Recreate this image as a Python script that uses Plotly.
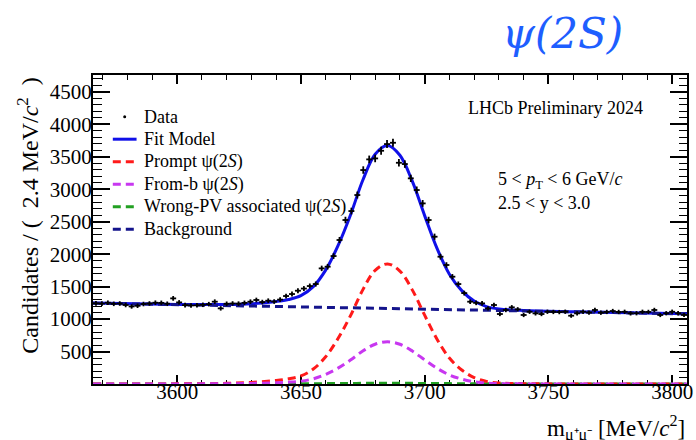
import numpy as np
import plotly.graph_objects as go

# ---- data: dimuon mass histogram, 2.4 MeV/c^2 bins from 3566 to 3806 ----
bin_lo = 3566.0
bin_width = 2.4
counts = [
    1242, 1238, 1252, 1235, 1240, 1217, 1195, 1205, 1232, 1240,
    1252, 1250, 1236, 1319, 1257, 1215, 1210, 1212, 1220, 1230,
    1268, 1165, 1236, 1240, 1238, 1250, 1268, 1294, 1262, 1283,
    1270, 1300, 1355, 1386, 1437, 1470, 1509, 1540, 1781, 1807,
    1971, 2218, 2526, 2664, 2911, 3296, 3460, 3475, 3593, 3696,
    3716, 3408, 3388, 3168, 2988, 2782, 2526, 2269, 1961, 1833,
    1653, 1540, 1400, 1268, 1250, 1242, 1165, 1217, 1078, 1140,
    1181, 1150, 1063, 1113, 1088, 1078, 1113, 1110, 1108, 1113,
    1052, 1088, 1113, 1100, 1140, 1098, 1110, 1124, 1110, 1112,
    1088, 1090, 1112, 1110, 1140, 1063, 1090, 1113, 1090, 1063,
]

# ---- fit components sampled along the mass axis ----
curve_mass = [3566, 3600, 3620, 3630, 3640, 3645, 3650, 3655, 3660, 3665,
              3670, 3675, 3680, 3685, 3690, 3695, 3700, 3705, 3710, 3715,
              3720, 3725, 3730, 3740, 3760, 3806]
background = [1245, 1222, 1208, 1201, 1194, 1191, 1187, 1184, 1180, 1177,
              1173, 1170, 1167, 1163, 1160, 1156, 1153, 1150, 1146, 1143,
              1139, 1136, 1132, 1125, 1112, 1080]
prompt = [0, 2, 10, 25, 55, 80, 125, 230, 420, 700,
          1050, 1450, 1750, 1850, 1740, 1450, 1060, 690, 400, 215,
          100, 40, 16, 5, 1, 0]
from_b = [0, 1, 4, 9, 20, 28, 44, 80, 148, 245,
          368, 508, 612, 650, 612, 508, 372, 242, 140, 75,
          35, 14, 6, 2, 0, 0]
wrong_pv = [1, 1, 2, 2, 3, 3, 4, 5, 6, 8,
            9, 10, 11, 11, 11, 10, 9, 8, 6, 5,
            3, 2, 2, 1, 1, 1]

x_range = [3566, 3806]
y_range = [0, 4760]
y_ticks = [500, 1000, 1500, 2000, 2500, 3000, 3500, 4000, 4500]

centers = bin_lo + bin_width * (np.arange(len(counts)) + 0.5)
counts_arr = np.array(counts, dtype=float)
fit_total = (np.array(background) + np.array(prompt)
             + np.array(from_b) + np.array(wrong_pv))

SERIF = "Liberation Serif"
C_FIT = "#1010e8"
C_PROMPT = "#ff1a1a"
C_FROMB = "#c837f0"
C_WPV = "#22a022"
C_BKG = "#14148c"
DASH = "8px,5px"

fig = go.Figure()

fig.add_trace(go.Scatter(x=curve_mass, y=fit_total, mode="lines",
                         line=dict(color=C_FIT, width=3, shape="spline"),
                         hoverinfo="skip"))
fig.add_trace(go.Scatter(x=curve_mass, y=background, mode="lines",
                         line=dict(color=C_BKG, width=3, dash=DASH),
                         hoverinfo="skip"))
fig.add_trace(go.Scatter(x=curve_mass, y=wrong_pv, mode="lines",
                         line=dict(color=C_WPV, width=3, dash=DASH, shape="spline"),
                         hoverinfo="skip"))
fig.add_trace(go.Scatter(x=curve_mass, y=prompt, mode="lines",
                         line=dict(color=C_PROMPT, width=3, dash=DASH, shape="spline"),
                         hoverinfo="skip"))
fig.add_trace(go.Scatter(x=curve_mass, y=from_b, mode="lines",
                         line=dict(color=C_FROMB, width=3, dash=DASH, shape="spline"),
                         hoverinfo="skip"))
fig.add_trace(go.Scatter(
    x=centers, y=counts_arr, mode="markers",
    marker=dict(color="black", size=2),
    error_x=dict(type="constant", value=bin_width / 2, width=0,
                 thickness=1.8, color="black"),
    error_y=dict(type="data", array=np.sqrt(counts_arr), width=0,
                 thickness=1.8, color="black"),
))

# plot-area geometry in pixels, used to place the in-frame legend and labels
L, T, W, H = 93, 75, 600, 309


def px(xp):
    return (xp - L) / W


def py(yp):
    return (T + H - yp) / H


shapes = []
annotations = []

legend_rows = [
    ("Data", None),
    ("Fit Model", C_FIT),
    ("Prompt ψ(2<i>S</i>)", C_PROMPT),
    ("From-b ψ(2<i>S</i>)", C_FROMB),
    ("Wrong-PV associated ψ(2<i>S</i>)", C_WPV),
    ("Background", C_BKG),
]
row_y0, row_step = 116.7, 22.5
for k, (label, color) in enumerate(legend_rows):
    yy = row_y0 + k * row_step
    if color is None:
        shapes.append(dict(type="circle", xref="paper", yref="paper",
                           x0=px(123.5), x1=px(126.5), y0=py(118.2), y1=py(115.2),
                           fillcolor="black", line=dict(width=0)))
    else:
        shapes.append(dict(type="line", xref="paper", yref="paper",
                           x0=px(113), x1=px(137), y0=py(yy), y1=py(yy),
                           line=dict(color=color, width=3,
                                     dash="solid" if k == 1 else DASH)))
    annotations.append(dict(text=label, xref="paper", yref="paper",
                            x=px(142), y=py(yy), xanchor="left", yanchor="middle",
                            showarrow=False,
                            font=dict(family=SERIF, size=18, color="black")))

annotations += [
    dict(text="LHCb Preliminary 2024", xref="paper", yref="paper",
         x=px(470), y=py(108), xanchor="left", yanchor="middle", showarrow=False,
         font=dict(family=SERIF, size=18, color="black")),
    dict(text="5 &lt; <i>p</i><sub>T</sub> &lt; 6 GeV/<i>c</i>", xref="paper", yref="paper",
         x=px(500), y=py(180), xanchor="left", yanchor="middle", showarrow=False,
         font=dict(family=SERIF, size=18, color="black")),
    dict(text="2.5 &lt; y &lt; 3.0", xref="paper", yref="paper",
         x=px(500), y=py(203), xanchor="left", yanchor="middle", showarrow=False,
         font=dict(family=SERIF, size=18, color="black")),
    dict(text="<i>ψ(2S)</i>", xref="paper", yref="paper",
         x=px(567), y=py(33), xanchor="center", yanchor="middle", showarrow=False,
         font=dict(family="DejaVu Serif", size=42, color="#1e5eff")),
    dict(text="Candidates / (  2.4 MeV/<i>c</i><sup>2</sup>  )", xref="paper", yref="paper",
         x=px(27), y=py(216), xanchor="center", yanchor="middle", textangle=-90,
         showarrow=False, font=dict(family=SERIF, size=24, color="black")),
    dict(text="m<sub>μ⁺μ⁻</sub> [MeV/<i>c</i><sup>2</sup>]", xref="paper", yref="paper",
         x=1.0, y=py(428), xanchor="right", yanchor="middle",
         showarrow=False, font=dict(family=SERIF, size=23, color="black")),
]

axis_common = dict(
    showline=True, linecolor="black", linewidth=2, mirror="allticks",
    ticks="inside", tickcolor="black", tickwidth=1.5,
    showgrid=False, zeroline=False,
    tickfont=dict(family=SERIF, size=21, color="black"),
    ticklabeloverflow="allow",
    layer="below traces",
)

fig.update_layout(
    width=696, height=440,
    margin=dict(l=L, r=696 - L - W, t=T, b=440 - T - H),
    paper_bgcolor="white", plot_bgcolor="white",
    font=dict(family=SERIF, size=20, color="black"),
    showlegend=False,
    shapes=shapes, annotations=annotations,
    xaxis=dict(range=x_range, dtick=50, tick0=3600, ticklen=9,
               ticklabelstandoff=-12,
               minor=dict(ticks="inside", dtick=10, tick0=3600, ticklen=4.5,
                          tickcolor="black", tickwidth=1.2),
               **axis_common),
    yaxis=dict(range=y_range, tickmode="array", tickvals=y_ticks, ticklen=17,
               ticklabelstandoff=-5,
               minor=dict(ticks="inside", dtick=100, tick0=0, ticklen=8.5,
                          tickcolor="black", tickwidth=1.2),
               **axis_common),
)

fig.write_html("out.html")
